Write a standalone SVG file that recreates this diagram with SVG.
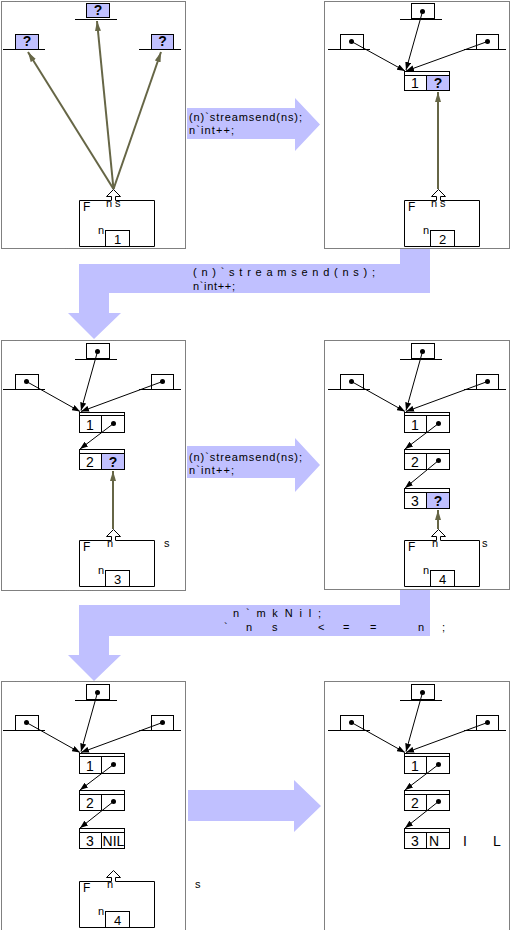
<svg xmlns="http://www.w3.org/2000/svg" width="510" height="930" viewBox="0 0 510 930">
<style>
.panel{fill:none;stroke:#000;stroke-width:1;stroke-dasharray:1 1}
.bx{fill:#fff;stroke:#000;stroke-width:1}
.q{fill:#c0c0ff;stroke:#000;stroke-width:1}
.ln{stroke:#000;stroke-width:1;fill:none}
.big{fill:#c0c0ff}
.qm{font-family:"Liberation Sans",Arial,sans-serif;font-weight:bold;font-size:14px;text-anchor:middle;fill:#000}
.dg{font-family:"Liberation Sans",Arial,sans-serif;font-size:14px;text-anchor:middle;fill:#000}
.sm{font-family:"Liberation Sans",Arial,sans-serif;font-size:11px;fill:#000}
.fl{font-family:"Liberation Sans",Arial,sans-serif;font-size:12px;fill:#000}
.cd{font-family:"Liberation Sans",Arial,sans-serif;font-size:11px;fill:#000}
.ptr{stroke:#000;stroke-width:1;fill:none;marker-end:url(#ah)}
.ol{stroke:#666646;stroke-width:2;fill:none;marker-end:url(#oh)}
.dot{fill:#000}
</style>
<defs>
<marker id="ah" viewBox="0 0 8 6" refX="8" refY="3" markerWidth="8" markerHeight="6" markerUnits="userSpaceOnUse" orient="auto"><path d="M0,0 L8,3 L0,6 z" fill="#000"/></marker>
<marker id="oh" viewBox="0 0 10 6" refX="10" refY="3" markerWidth="10" markerHeight="6" markerUnits="userSpaceOnUse" orient="auto"><path d="M0,0 L10,3 L0,6 z" fill="#666646"/></marker>
<g id="fframe">
<path class="ln" d="M111.5,200.5 H79.5 V246.5 H154.5 V200.5 H115.5"/>
<polyline class="bx" points="111.5,200.5 111.5,196.5 106.5,196.5 113.5,189.5 120.5,196.5 115.5,196.5 115.5,200.5"/>
<text class="fl" x="83" y="211">F</text>
<rect class="bx" x="105.5" y="230.5" width="24" height="16"/>
<text class="sm" x="98" y="234">n</text>
</g>
<g id="slots">
<rect class="bx" x="86.5" y="3.5" width="23" height="15"/>
<line class="ln" x1="75" y1="19.5" x2="117" y2="19.5"/>
<rect class="bx" x="15.5" y="34.5" width="23" height="15"/>
<line class="ln" x1="3" y1="49.5" x2="45" y2="49.5"/>
<rect class="bx" x="151.5" y="34.5" width="22" height="15"/>
<line class="ln" x1="139" y1="49.5" x2="181" y2="49.5"/>
<circle class="dot" cx="97.5" cy="11.5" r="2.5"/>
<circle class="dot" cx="26.5" cy="41.5" r="2.5"/>
<circle class="dot" cx="162.5" cy="41.5" r="2.5"/>
</g>
</defs>

<g id="borders">
<rect class="panel" x="1.5" y="1.5" width="184" height="247"/>
<rect class="panel" x="324.5" y="1.5" width="185" height="247"/>
<rect class="panel" x="1.5" y="340.5" width="184" height="250"/>
<rect class="panel" x="324.5" y="340.5" width="185" height="249"/>
<rect class="panel" x="1.5" y="681.5" width="184" height="260"/>
<rect class="panel" x="324.5" y="681.5" width="185" height="260"/>
</g>

<g id="transitions">
<polygon class="big" points="187,108 295,108 295,98 320,124.5 295,151 295,139 187,139"/>
<text class="cd" x="189" y="121" textLength="113" lengthAdjust="spacing">(n)`streamsend(ns);</text>
<text class="cd" x="189" y="134" textLength="45" lengthAdjust="spacing">n`int++;</text>

<polygon class="big" points="400,249 430,249 430,293 109,293 109,313 121,313 94,339 68,313 79,313 79,264 400,264"/>
<text class="cd" x="193" y="276" textLength="182" lengthAdjust="spacing">(n)`streamsend(ns);</text>
<text class="cd" x="193" y="290" textLength="42" lengthAdjust="spacing">n`int++;</text>

<polygon class="big" points="187,446 295,446 295,438 320,465 295,492 295,478 187,478"/>
<text class="cd" x="189" y="461" textLength="113" lengthAdjust="spacing">(n)`streamsend(ns);</text>
<text class="cd" x="189" y="474" textLength="45" lengthAdjust="spacing">n`int++;</text>

<polygon class="big" points="400,590 430,590 430,636 109,636 109,655 121,655 94,681 68,655 79,655 79,605 400,605"/>
<text class="cd" x="233" y="617" textLength="88" lengthAdjust="spacing">n`mkNil;</text>
<text class="cd" x="224 246 272 318 343 370 418 442" y="631">`ns&lt;==n;</text>

<polygon class="big" points="188,790 294,790 294,780 321,806 294,832 294,821 188,821"/>
</g>

<g id="panel1">
<g id="p1-top"><rect class="q" x="86.5" y="3.5" width="23" height="14"/><line class="ln" x1="75" y1="19.5" x2="117" y2="19.5"/><text class="qm" x="98" y="15">?</text></g>
<g id="p1-left"><rect class="q" x="15.5" y="34.5" width="23" height="15"/><line class="ln" x1="3" y1="49.5" x2="45" y2="49.5"/><text class="qm" x="27" y="46">?</text></g>
<g id="p1-right"><rect class="q" x="151.5" y="34.5" width="22" height="15"/><line class="ln" x1="139" y1="49.5" x2="181" y2="49.5"/><text class="qm" x="162.5" y="46">?</text></g>
<g id="p1-frame"><use href="#fframe"/><text class="sm" x="106" y="207">n</text><text class="sm" x="115" y="207">s</text><text class="dg" x="117.5" y="244" style="font-size:13px">1</text></g>
</g>

<g id="panel2" transform="translate(325,0)">
<g id="p2-slots"><use href="#slots"/></g>
<g id="p2-cell1"><rect class="bx" x="79.5" y="71.5" width="45" height="19"/><line class="ln" x1="79.5" y1="75.5" x2="124.5" y2="75.5"/><rect class="q" x="101.5" y="75.5" width="23" height="15"/><text class="dg" x="90" y="88">1</text><text class="qm" x="113" y="88">?</text></g>
<g id="p2-frame"><use href="#fframe"/><text class="sm" x="106" y="207">n</text><text class="sm" x="115" y="207">s</text><text class="dg" x="117.5" y="244" style="font-size:13px">2</text></g>
</g>

<g id="panel3" transform="translate(0,340)">
<g id="p3-slots"><use href="#slots"/></g>
<g id="p3-cell1"><rect class="bx" x="79.5" y="72.5" width="45" height="20"/><line class="ln" x1="79.5" y1="75.5" x2="124.5" y2="75.5"/><line class="ln" x1="101.5" y1="75.5" x2="101.5" y2="92.5"/><text class="dg" x="90" y="90">1</text><circle class="dot" cx="113.5" cy="83.5" r="2.5"/></g>
<g id="p3-cell2"><rect class="bx" x="79.5" y="109.5" width="45" height="20"/><line class="ln" x1="79.5" y1="113.5" x2="124.5" y2="113.5"/><rect class="q" x="101.5" y="113.5" width="23" height="16"/><text class="dg" x="90" y="127">2</text><text class="qm" x="113" y="127">?</text></g>
<g id="p3-frame"><use href="#fframe"/><text class="sm" x="107" y="207">n</text><text class="sm" x="164" y="207">s</text><text class="dg" x="117.5" y="244" style="font-size:13px">3</text></g>
</g>

<g id="panel4" transform="translate(325,340)">
<g id="p4-slots"><use href="#slots"/></g>
<g id="p4-cell1"><rect class="bx" x="79.5" y="72.5" width="45" height="20"/><line class="ln" x1="79.5" y1="75.5" x2="124.5" y2="75.5"/><line class="ln" x1="101.5" y1="75.5" x2="101.5" y2="92.5"/><text class="dg" x="90" y="90">1</text><circle class="dot" cx="113.5" cy="83.5" r="2.5"/></g>
<g id="p4-cell2"><rect class="bx" x="79.5" y="109.5" width="45" height="20"/><line class="ln" x1="79.5" y1="113.5" x2="124.5" y2="113.5"/><line class="ln" x1="101.5" y1="113.5" x2="101.5" y2="129.5"/><text class="dg" x="90" y="127">2</text><circle class="dot" cx="113.5" cy="120.5" r="2.5"/></g>
<g id="p4-cell3"><rect class="bx" x="79.5" y="148.5" width="45" height="20"/><line class="ln" x1="79.5" y1="152.5" x2="124.5" y2="152.5"/><rect class="q" x="101.5" y="152.5" width="23" height="16"/><text class="dg" x="90" y="166">3</text><text class="qm" x="113" y="166">?</text></g>
<g id="p4-frame"><use href="#fframe"/><text class="sm" x="107" y="207">n</text><text class="sm" x="157" y="207">s</text><text class="dg" x="117.5" y="244" style="font-size:13px">4</text></g>
</g>

<g id="panel5" transform="translate(0,681)">
<g id="p5-slots"><use href="#slots"/></g>
<g id="p5-cell1"><rect class="bx" x="79.5" y="72.5" width="45" height="20"/><line class="ln" x1="79.5" y1="75.5" x2="124.5" y2="75.5"/><line class="ln" x1="101.5" y1="75.5" x2="101.5" y2="92.5"/><text class="dg" x="90" y="90">1</text><circle class="dot" cx="113.5" cy="83.5" r="2.5"/></g>
<g id="p5-cell2"><rect class="bx" x="79.5" y="109.5" width="45" height="20"/><line class="ln" x1="79.5" y1="113.5" x2="124.5" y2="113.5"/><line class="ln" x1="101.5" y1="113.5" x2="101.5" y2="129.5"/><text class="dg" x="90" y="127">2</text><circle class="dot" cx="113.5" cy="120.5" r="2.5"/></g>
<g id="p5-cell3"><rect class="bx" x="79.5" y="147.5" width="45" height="20"/><line class="ln" x1="79.5" y1="151.5" x2="124.5" y2="151.5"/><line class="ln" x1="101.5" y1="151.5" x2="101.5" y2="167.5"/><text class="dg" x="90" y="165">3</text><text class="dg" x="113.5" y="165">NIL</text></g>
<g id="p5-frame"><use href="#fframe"/><text class="sm" x="107" y="207">n</text><text class="sm" x="195" y="207">s</text><text class="dg" x="117.5" y="244" style="font-size:13px">4</text></g>
</g>

<g id="panel6" transform="translate(325,681)">
<g id="p6-slots"><use href="#slots"/></g>
<g id="p6-cell1"><rect class="bx" x="79.5" y="72.5" width="45" height="20"/><line class="ln" x1="79.5" y1="75.5" x2="124.5" y2="75.5"/><line class="ln" x1="101.5" y1="75.5" x2="101.5" y2="92.5"/><text class="dg" x="90" y="90">1</text><circle class="dot" cx="113.5" cy="83.5" r="2.5"/></g>
<g id="p6-cell2"><rect class="bx" x="79.5" y="109.5" width="45" height="20"/><line class="ln" x1="79.5" y1="113.5" x2="124.5" y2="113.5"/><line class="ln" x1="101.5" y1="113.5" x2="101.5" y2="129.5"/><text class="dg" x="90" y="127">2</text><circle class="dot" cx="113.5" cy="120.5" r="2.5"/></g>
<g id="p6-cell3"><rect class="bx" x="79.5" y="147.5" width="45" height="20"/><line class="ln" x1="79.5" y1="151.5" x2="124.5" y2="151.5"/><line class="ln" x1="101.5" y1="151.5" x2="101.5" y2="167.5"/><text class="dg" x="90" y="165">3</text><text class="dg" x="104 138 168" y="165" style="text-anchor:start">NIL</text></g>
</g>

<g id="connectors">
<g id="c-p1">
<line class="ol" x1="113.5" y1="189" x2="28" y2="52"/>
<line class="ol" x1="113.5" y1="189" x2="97" y2="21"/>
<line class="ol" x1="113.5" y1="189" x2="161" y2="52"/>
</g>
<g id="c-p2" transform="translate(325,0)">
<line class="ptr" x1="26.5" y1="41.5" x2="80" y2="71"/>
<line class="ptr" x1="97.5" y1="11.5" x2="81" y2="70"/>
<line class="ptr" x1="162.5" y1="41.5" x2="81" y2="71"/>
<line class="ol" x1="113" y1="189" x2="113" y2="92"/>
</g>
<g id="c-p3" transform="translate(0,340)">
<line class="ptr" x1="26.5" y1="41.5" x2="80" y2="71.5"/>
<line class="ptr" x1="97.5" y1="11.5" x2="81" y2="70.5"/>
<line class="ptr" x1="162.5" y1="41.5" x2="81" y2="71.5"/>
<line class="ptr" x1="113.5" y1="83.5" x2="80" y2="109"/>
<line class="ol" x1="113" y1="189" x2="113" y2="131"/>
</g>
<g id="c-p4" transform="translate(325,340)">
<line class="ptr" x1="26.5" y1="41.5" x2="80" y2="71.5"/>
<line class="ptr" x1="97.5" y1="11.5" x2="81" y2="70.5"/>
<line class="ptr" x1="162.5" y1="41.5" x2="81" y2="71.5"/>
<line class="ptr" x1="113.5" y1="83.5" x2="80" y2="109"/>
<line class="ptr" x1="113.5" y1="120.5" x2="80" y2="148"/>
<line class="ol" x1="113" y1="189" x2="113" y2="170"/>
</g>
<g id="c-p5" transform="translate(0,681)">
<line class="ptr" x1="26.5" y1="41.5" x2="80" y2="71.5"/>
<line class="ptr" x1="97.5" y1="11.5" x2="81" y2="70.5"/>
<line class="ptr" x1="162.5" y1="41.5" x2="81" y2="71.5"/>
<line class="ptr" x1="113.5" y1="83.5" x2="80" y2="109"/>
<line class="ptr" x1="113.5" y1="120.5" x2="80" y2="147"/>
</g>
<g id="c-p6" transform="translate(325,681)">
<line class="ptr" x1="26.5" y1="41.5" x2="80" y2="71.5"/>
<line class="ptr" x1="97.5" y1="11.5" x2="81" y2="70.5"/>
<line class="ptr" x1="162.5" y1="41.5" x2="81" y2="71.5"/>
<line class="ptr" x1="113.5" y1="83.5" x2="80" y2="109"/>
<line class="ptr" x1="113.5" y1="120.5" x2="80" y2="147"/>
</g>
</g>
</svg>
